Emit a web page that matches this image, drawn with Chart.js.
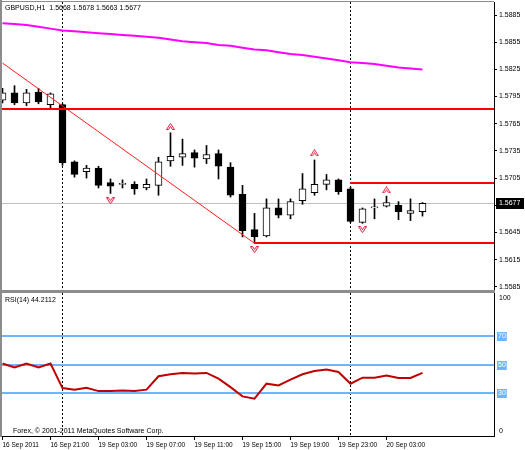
<!DOCTYPE html>
<html><head><meta charset="utf-8">
<script src="https://cdn.jsdelivr.net/npm/chart.js@4.4.0/dist/chart.umd.min.js"></script>
<style>
html,body{margin:0;padding:0;background:#fff;width:525px;height:450px;overflow:hidden}
#p1{position:absolute;left:0;top:0;width:525px;height:293px}
#p2{position:absolute;left:0;top:293px;width:525px;height:157px}
</style></head><body>
<div id="p1"><canvas id="c1" width="525" height="293"></canvas></div>
<div id="p2"><canvas id="c2" width="525" height="157"></canvas></div>
<script>
// ---------- data ----------
const barTimes = ['16 Sep 17:00','16 Sep 18:00','16 Sep 19:00','16 Sep 20:00','16 Sep 21:00',
 '19 Sep 00:00','19 Sep 01:00','19 Sep 02:00','19 Sep 03:00','19 Sep 04:00','19 Sep 05:00','19 Sep 06:00',
 '19 Sep 07:00','19 Sep 08:00','19 Sep 09:00','19 Sep 10:00','19 Sep 11:00','19 Sep 12:00','19 Sep 13:00',
 '19 Sep 14:00','19 Sep 15:00','19 Sep 16:00','19 Sep 17:00','19 Sep 18:00','19 Sep 19:00','19 Sep 20:00',
 '19 Sep 21:00','19 Sep 22:00','19 Sep 23:00','20 Sep 00:00','20 Sep 01:00','20 Sep 02:00','20 Sep 03:00',
 '20 Sep 04:00','20 Sep 05:00','20 Sep 06:00'];
const openP  = [1.5791,1.5799,1.5788,1.5800,1.5786,1.5786,1.5723,1.5712,1.5716,1.5700,1.5698,1.5698,1.5694,1.5697,1.5724,1.5728,1.5733,1.5726,1.5732,1.5717,1.5687,1.5648,1.5641,1.5672,1.5664,1.5680,1.5689,1.5698,1.5703,1.5693,1.5656,1.5672,1.5674,1.5675,1.5666,1.5668];
const highP  = [1.5804,1.5807,1.5803,1.5804,1.5799,1.5787,1.5724,1.5719,1.5718,1.5704,1.5703,1.5701,1.5704,1.5728,1.5755,1.5748,1.5736,1.5741,1.5736,1.5722,1.5697,1.5666,1.5682,1.5682,1.5682,1.5710,1.5725,1.5709,1.5704,1.5695,1.5672,1.5682,1.5685,1.5679,1.5682,1.5678];
const lowP   = [1.5788,1.5786,1.5785,1.5787,1.5782,1.5719,1.5706,1.5705,1.5694,1.5688,1.5694,1.5687,1.5692,1.5686,1.5718,1.5719,1.5717,1.5721,1.5704,1.5684,1.5640,1.5633,1.5640,1.5661,1.5660,1.5676,1.5686,1.5692,1.5687,1.5656,1.5655,1.5660,1.5673,1.5659,1.5658,1.5663];
const closeP = [1.5799,1.5788,1.5799,1.5789,1.5798,1.5722,1.5709,1.5716,1.5697,1.5696,1.5698,1.5693,1.5698,1.5723,1.5729,1.5732,1.5727,1.5731,1.5718,1.5686,1.5647,1.5640,1.5672,1.5664,1.5679,1.5693,1.5698,1.5703,1.5690,1.5657,1.5671,1.5672,1.5678,1.5668,1.5669,1.5677];
const maP    = [1.5876,1.5875,1.5874,1.5872,1.5870,1.5868,1.5867,1.5866,1.5865,1.5864,1.5863,1.5862,1.5861,1.5860,1.5858,1.5856,1.5855,1.5854,1.5852,1.5851,1.5849,1.5847,1.5846,1.5844,1.5842,1.5841,1.5839,1.5837,1.5835,1.5833,1.5832,1.5831,1.5829,1.5827,1.5826,1.5825];
const rsiV   = [50.7,47.9,50.7,47.9,50.7,33.5,32.4,33.8,31.4,31.4,31.9,31.4,32.4,41.8,43.2,44.1,43.7,44.1,40.1,34.2,27.7,26.1,36.6,35.4,39.4,43.2,45.5,46.5,44.8,36.6,40.8,40.8,42.3,40.6,40.6,44.2];
const fracUpIdx = [14,26,32];
const fracUpVal = [1.5762,1.5733,1.5692];
const fracDnIdx = [9,21,30];
const fracDnVal = [1.5680,1.5626,1.5648];
const fullLevels = [1.5781];
const rayStart = [29,21];
const rayPrice = [1.5699,1.5633];
const trendIdx = [0,21];
const trendVal = [1.5832,1.5633];
const separators = [5,29];
const xTickIdx = [0,4,8,12,16,20,24,28,32];
const xTickLabels = ['16 Sep 2011','16 Sep 21:00','19 Sep 03:00','19 Sep 07:00','19 Sep 11:00','19 Sep 15:00','19 Sep 19:00','19 Sep 23:00','20 Sep 03:00'];
const priceTicks = [1.5585,1.5615,1.5645,1.5675,1.5705,1.5735,1.5765,1.5795,1.5825,1.5855,1.5885];
const rsiTicks = [0,30,50,70,100];
const rsiLevels = [30,50,70];
const titleText = 'GBPUSD,H1  1.5668 1.5678 1.5663 1.5677';
const rsiTitle = 'RSI(14) 44.2112';
const copyright = 'Forex, \u00A9 2001-2011 MetaQuotes Software Corp.';

// ---------- setup ----------
const FONT = '"Liberation Sans", Arial, sans-serif';
Chart.defaults.font.family = FONT;
Chart.defaults.font.size = 7;
Chart.defaults.color = '#000';
const idx = barTimes.map((_, i) => i);
const X_MIN = -1/24, X_MAX = 41 - 1/24;
const noPad = s => { s.paddingTop = 0; s.paddingBottom = 0; s.paddingLeft = 0; s.paddingRight = 0; };

function arrowCanvas(up){
  const c = document.createElement('canvas'); c.width = 9; c.height = 7;
  const g = c.getContext('2d');
  g.strokeStyle = '#e0203c'; g.lineWidth = 1;
  g.beginPath();
  if (up){ g.moveTo(0.5,6.5); g.lineTo(4.5,0.5); g.lineTo(8.5,6.5); g.lineTo(6.5,6.5); g.lineTo(4.5,3.5); g.lineTo(2.5,6.5); g.closePath(); }
  else { g.moveTo(0.5,0.5); g.lineTo(4.5,6.5); g.lineTo(8.5,0.5); g.lineTo(6.5,0.5); g.lineTo(4.5,3.5); g.lineTo(2.5,0.5); g.closePath(); }
  g.stroke();
  return c;
}

const separatorPlugin = {
  id: 'separators',
  beforeDatasetsDraw(chart){
    const {ctx, chartArea: a, scales: {x}} = chart;
    ctx.save(); ctx.strokeStyle = '#000'; ctx.lineWidth = 1; ctx.setLineDash([2,2]);
    separators.forEach(i => {
      const px = Math.floor(x.getPixelForValue(i)) + 0.5;
      ctx.beginPath(); ctx.moveTo(px, a.top); ctx.lineTo(px, a.bottom); ctx.stroke();
    });
    ctx.restore();
  }
};

const pricePlugin = {
  id: 'priceDecor',
  beforeDatasetsDraw(chart){
    const {ctx, chartArea: a, scales: {y}} = chart;
    const bid = closeP[closeP.length - 1];
    const py = Math.round(y.getPixelForValue(bid)) + 0.5;
    ctx.save(); ctx.strokeStyle = '#c0c0c0'; ctx.lineWidth = 1;
    ctx.beginPath(); ctx.moveTo(a.left, py); ctx.lineTo(a.right, py); ctx.stroke();
    ctx.restore();
  },
  afterDatasetsDraw(chart){
    const {ctx, chartArea: a, scales: {x, y}} = chart;
    ctx.save();
    ctx.strokeStyle = '#ff0000'; ctx.lineWidth = 2;
    fullLevels.forEach(v => {
      const py = Math.round(y.getPixelForValue(v));
      ctx.beginPath(); ctx.moveTo(a.left, py); ctx.lineTo(a.right, py); ctx.stroke();
    });
    rayStart.forEach((s, k) => {
      const py = Math.round(y.getPixelForValue(rayPrice[k]));
      ctx.beginPath(); ctx.moveTo(Math.floor(x.getPixelForValue(s)), py); ctx.lineTo(a.right, py); ctx.stroke();
    });
    ctx.restore();
  },
  afterDraw(chart){
    const {ctx, chartArea: a, scales: {y}} = chart;
    ctx.save();
    ctx.fillStyle = '#8c8c8c';
    ctx.fillRect(0, 0, 2, chart.height);
    ctx.fillRect(0, a.top - 1, a.right, 1);
    ctx.fillRect(0, a.bottom, a.right + 1, chart.height - a.bottom);
    ctx.fillStyle = '#000'; ctx.font = '7px ' + FONT; ctx.textBaseline = 'middle'; ctx.textAlign = 'left';
    ctx.fillText(titleText, 5, a.top + 6.5);
    const bid = closeP[closeP.length - 1];
    const py = y.getPixelForValue(bid);
    ctx.fillStyle = '#000';
    ctx.fillRect(a.right + 2, Math.round(py) - 5, 28, 11);
    ctx.fillStyle = '#fff';
    ctx.fillText(bid.toFixed(4), a.right + 5, Math.round(py) + 0.5);
    ctx.restore();
  }
};

const rsiPlugin = {
  id: 'rsiDecor',
  beforeDatasetsDraw(chart){
    const {ctx, chartArea: a, scales: {y}} = chart;
    ctx.save(); ctx.strokeStyle = '#6db6ff'; ctx.lineWidth = 2;
    rsiLevels.forEach(v => {
      const py = Math.round(y.getPixelForValue(v));
      ctx.beginPath(); ctx.moveTo(a.left, py); ctx.lineTo(a.right, py); ctx.stroke();
    });
    ctx.restore();
  },
  afterDraw(chart){
    const {ctx, chartArea: a, scales: {y}} = chart;
    ctx.save();
    ctx.fillStyle = '#8c8c8c';
    ctx.fillRect(0, 0, 2, a.bottom + 1);
    ctx.font = '7px ' + FONT; ctx.textBaseline = 'middle'; ctx.textAlign = 'left';
    rsiTicks.forEach(v => {
      let py = y.getPixelForValue(v);
      py = Math.min(Math.max(py, a.top + 5), a.bottom - 4.5);
      const t = String(v);
      if (rsiLevels.includes(v)) {
        const w = ctx.measureText(t).width;
        ctx.fillStyle = '#6db6ff';
        ctx.fillRect(a.right + 3, Math.round(py) - 4, w + 2, 9);
        ctx.fillStyle = '#fff';
        ctx.fillText(t, a.right + 4, Math.round(py) + 0.5);
      } else {
        ctx.fillStyle = '#000';
        ctx.fillText(t, a.right + 5, py);
      }
    });
    ctx.fillStyle = '#000';
    ctx.fillText(rsiTitle, 5, a.top + 7);
    ctx.fillText(copyright, 13, a.bottom - 5);
    ctx.restore();
  }
};

const xCommon = { type: 'linear', min: X_MIN, max: X_MAX, offset: false };

// ---------- price chart ----------
new Chart(document.getElementById('c1'), {
  type: 'bar',
  data: {
    datasets: [
      { type: 'line', label: 'Trend', data: trendIdx.map((i,k) => ({x: i, y: trendVal[k]})),
        borderColor: '#ff2020', borderWidth: 1, pointRadius: 0, order: 0 },
      { type: 'scatter', label: 'Fractal up', data: fracUpIdx.map((i,k) => ({x: i, y: fracUpVal[k]})),
        pointStyle: arrowCanvas(true), pointRadius: 4, order: 0 },
      { type: 'scatter', label: 'Fractal down', data: fracDnIdx.map((i,k) => ({x: i, y: fracDnVal[k]})),
        pointStyle: arrowCanvas(false), pointRadius: 4, order: 0 },
      { type: 'line', label: 'MA', data: idx.map(i => ({x: i, y: maP[i]})),
        borderColor: '#ff00ff', borderWidth: 2, pointRadius: 0, order: 1 },
      { type: 'bar', label: 'Body', data: idx.map(i => ({x: i, y: [openP[i], closeP[i]]})),
        backgroundColor: c => (closeP[c.dataIndex] >= openP[c.dataIndex] ? '#ffffff' : '#000000'),
        borderColor: '#000', borderWidth: 1, borderSkipped: false, barThickness: 7, minBarLength: 1,
        grouped: false, order: 2 },
      { type: 'bar', label: 'Wick', data: idx.map(i => ({x: i, y: [lowP[i], highP[i]]})),
        backgroundColor: '#000', barThickness: 1, grouped: false, order: 3 }
    ]
  },
  options: {
    responsive: false, animation: false, devicePixelRatio: 1,
    layout: { autoPadding: false, padding: { left: 2, top: 2, right: 0, bottom: 3 } },
    plugins: { legend: { display: false }, tooltip: { enabled: false } },
    scales: {
      x: Object.assign({}, xCommon, { display: false }),
      y: {
        position: 'right', min: 1.55814, max: 1.58994,
        afterBuildTicks: s => { s.ticks = priceTicks.map(v => ({value: v})); },
        afterFit: s => { s.width = 31; noPad(s); },
        ticks: { callback: v => Number(v).toFixed(4), padding: 2, font: { size: 7 }, color: '#000' },
        grid: { drawOnChartArea: false, tickLength: 3, color: '#000' },
        border: { display: true, color: '#000', width: 1 }
      }
    }
  },
  plugins: [separatorPlugin, pricePlugin]
});

// ---------- RSI chart ----------
new Chart(document.getElementById('c2'), {
  type: 'line',
  data: {
    datasets: [
      { label: 'RSI(14)', data: idx.map(i => ({x: i, y: rsiV[i]})),
        borderColor: '#c00000', borderWidth: 2, pointRadius: 0, tension: 0 }
    ]
  },
  options: {
    responsive: false, animation: false, devicePixelRatio: 1,
    layout: { autoPadding: false, padding: { left: 2, top: 0, right: 0, bottom: 0 } },
    plugins: { legend: { display: false }, tooltip: { enabled: false } },
    scales: {
      x: Object.assign({}, xCommon, {
        afterBuildTicks: s => { s.ticks = xTickIdx.map(v => ({value: v})); },
        afterFit: s => { s.height = 14; noPad(s); },
        ticks: { callback: (v, k) => xTickLabels[k], align: 'start', autoSkip: false, maxRotation: 0,
                 padding: 1, font: { size: 6.5 }, color: '#000' },
        grid: { drawOnChartArea: false, tickLength: 4, color: '#000', offset: false },
        border: { display: true, color: '#000', width: 1 }
      }),
      y: {
        position: 'right', min: 0, max: 100,
        afterFit: s => { s.width = 31; noPad(s); },
        ticks: { display: false },
        grid: { display: false },
        border: { display: true, color: '#000', width: 1 }
      }
    }
  },
  plugins: [separatorPlugin, rsiPlugin]
});
</script>
</body></html>
